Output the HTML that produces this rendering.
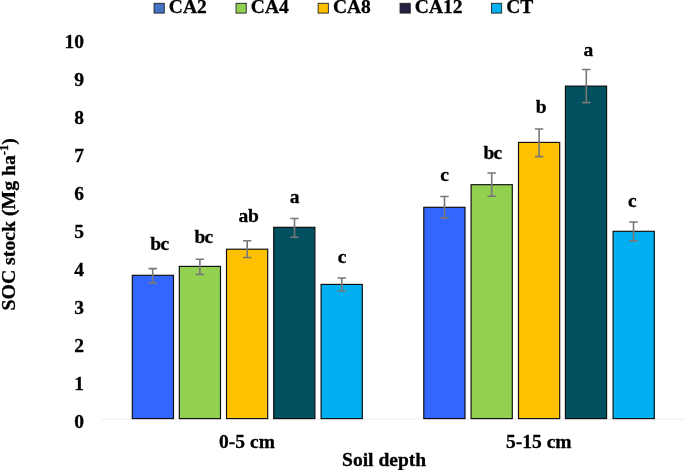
<!DOCTYPE html>
<html><head><meta charset="utf-8"><title>SOC stock</title>
<style>html,body{margin:0;padding:0;background:#fff;}svg{display:block;filter:opacity(1)}
text{font-family:"Liberation Serif",serif;font-weight:bold;font-size:19.5px;fill:#000;stroke:#000;stroke-width:0.3px;stroke-linejoin:round}</style></head>
<body><svg width="685" height="470" viewBox="0 0 685 470">
<rect width="685" height="470" fill="#fff"/>
<line x1="101" y1="419.1" x2="685" y2="419.1" stroke="#ececec" stroke-width="1"/>
<rect x="132.3" y="275.3" width="41.2" height="143.3" fill="#3366FF" stroke="#0c0c0c" stroke-width="1.15"/><path d="M152.7 268.65V282.85M148.5 268.65h8.4M148.5 282.85h8.4" stroke="#787878" stroke-width="1.6" fill="none"/><text x="150.3" y="249.6" letter-spacing="-0.7">bc</text>
<rect x="179.3" y="266.4" width="41.2" height="152.2" fill="#92D050" stroke="#0c0c0c" stroke-width="1.15"/><path d="M199.9 259.25V274.35M195.7 259.25h8.4M195.7 274.35h8.4" stroke="#787878" stroke-width="1.6" fill="none"/><text x="194.4" y="242.5" letter-spacing="-0.7">bc</text>
<rect x="226.5" y="249.2" width="41.2" height="169.4" fill="#FFC000" stroke="#0c0c0c" stroke-width="1.15"/><path d="M247.2 240.75V257.55M243.0 240.75h8.4M243.0 257.55h8.4" stroke="#787878" stroke-width="1.6" fill="none"/><text x="238.5" y="221.9" letter-spacing="-0.2">ab</text>
<rect x="273.7" y="227.3" width="41.2" height="191.3" fill="#00505F" stroke="#0c0c0c" stroke-width="1.15"/><path d="M294.5 218.45V237.25M290.3 218.45h8.4M290.3 237.25h8.4" stroke="#787878" stroke-width="1.6" fill="none"/><text x="289.8" y="203.0">a</text>
<rect x="321.1" y="284.4" width="41.2" height="134.2" fill="#00B0F0" stroke="#0c0c0c" stroke-width="1.15"/><path d="M341.8 277.95V291.05M337.6 277.95h8.4M337.6 291.05h8.4" stroke="#787878" stroke-width="1.6" fill="none"/><text x="337.7" y="263.2">c</text>
<rect x="423.8" y="207.3" width="41.2" height="211.3" fill="#3366FF" stroke="#0c0c0c" stroke-width="1.15"/><path d="M444.5 196.55V218.15M440.3 196.55h8.4M440.3 218.15h8.4" stroke="#787878" stroke-width="1.6" fill="none"/><text x="440.2" y="180.7">c</text>
<rect x="471.1" y="184.7" width="41.2" height="233.9" fill="#92D050" stroke="#0c0c0c" stroke-width="1.15"/><path d="M491.7 173.05V196.25M487.5 173.05h8.4M487.5 196.25h8.4" stroke="#787878" stroke-width="1.6" fill="none"/><text x="483.4" y="159.4" letter-spacing="-0.7">bc</text>
<rect x="518.5" y="142.4" width="41.2" height="276.2" fill="#FFC000" stroke="#0c0c0c" stroke-width="1.15"/><path d="M539.1 129.05V156.65M534.9 129.05h8.4M534.9 156.65h8.4" stroke="#787878" stroke-width="1.6" fill="none"/><text x="535.8" y="112.6">b</text>
<rect x="565.4" y="86.1" width="41.2" height="332.5" fill="#00505F" stroke="#0c0c0c" stroke-width="1.15"/><path d="M586.3 69.55V102.65M582.1 69.55h8.4M582.1 102.65h8.4" stroke="#787878" stroke-width="1.6" fill="none"/><text x="583.5" y="56.2">a</text>
<rect x="613.1" y="231.3" width="41.2" height="187.3" fill="#00B0F0" stroke="#0c0c0c" stroke-width="1.15"/><path d="M633.5 222.05V240.85M629.3 222.05h8.4M629.3 240.85h8.4" stroke="#787878" stroke-width="1.6" fill="none"/><text x="628.1" y="206.8">c</text>
<text x="84" y="427.6" text-anchor="end">0</text>
<text x="84" y="389.6" text-anchor="end">1</text>
<text x="84" y="351.7" text-anchor="end">2</text>
<text x="84" y="313.7" text-anchor="end">3</text>
<text x="84" y="275.7" text-anchor="end">4</text>
<text x="84" y="237.8" text-anchor="end">5</text>
<text x="84" y="199.8" text-anchor="end">6</text>
<text x="84" y="161.8" text-anchor="end">7</text>
<text x="84" y="123.8" text-anchor="end">8</text>
<text x="84" y="85.9" text-anchor="end">9</text>
<text x="84" y="47.9" text-anchor="end">10</text>
<rect x="154.05" y="3.3" width="10.2" height="9.8" fill="#4472C4" stroke="#222" stroke-width="0.9"/>
<text x="168.8" y="13.2">CA2</text>
<rect x="236.05" y="3.3" width="10.2" height="9.8" fill="#92D050" stroke="#222" stroke-width="0.9"/>
<text x="250.8" y="13.2">CA4</text>
<rect x="318.15" y="3.3" width="10.2" height="9.8" fill="#FFC000" stroke="#222" stroke-width="0.9"/>
<text x="332.9" y="13.2">CA8</text>
<rect x="400.05" y="3.3" width="10.2" height="9.8" fill="#22203F" stroke="#222" stroke-width="0.9"/>
<text x="414.8" y="13.2">CA12</text>
<rect x="491.45" y="3.3" width="10.2" height="9.8" fill="#00B0F0" stroke="#222" stroke-width="0.9"/>
<text x="506.2" y="13.2">CT</text>
<text x="247" y="448.2" text-anchor="middle">0-5 cm</text>
<text x="538.8" y="448.2" text-anchor="middle">5-15 cm</text>
<text x="384.1" y="465.6" text-anchor="middle">Soil depth</text>
<text transform="translate(14.8,224.3) rotate(-90)" text-anchor="middle" style="font-size:19.75px">SOC stock (Mg ha<tspan style="font-size:12.5px" dy="-6.6">-1</tspan><tspan dy="6.6">)</tspan></text>
</svg></body></html>
